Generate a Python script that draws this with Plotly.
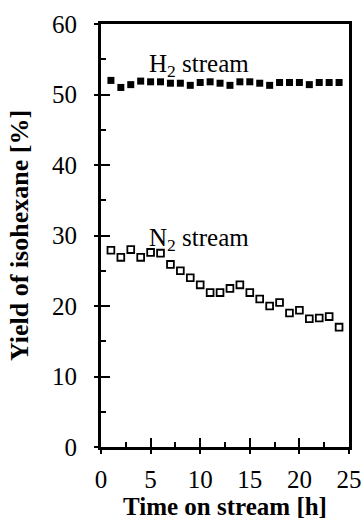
import plotly.graph_objects as go

hours = list(range(1, 25))
h2_yield = [52.0, 51.0, 51.4, 51.9, 51.8, 51.8, 51.6, 51.6, 51.3, 51.7, 51.8, 51.6,
            51.3, 51.8, 51.8, 51.6, 51.3, 51.7, 51.7, 51.7, 51.4, 51.7, 51.7, 51.7]
n2_yield = [27.9, 26.9, 28.0, 26.9, 27.6, 27.5, 25.9, 25.0, 24.0, 23.0, 21.9, 21.9,
            22.5, 23.0, 21.9, 21.0, 20.0, 20.5, 19.0, 19.4, 18.2, 18.3, 18.5, 17.0]
x_ticks = [0, 5, 10, 15, 20, 25]
y_ticks = [0, 10, 20, 30, 40, 50, 60]

FONT = "Liberation Serif, Times New Roman, serif"

fig = go.Figure()
fig.add_trace(go.Scatter(x=hours, y=h2_yield, mode="markers",
                         marker=dict(symbol="square", size=7, color="black",
                                     line=dict(width=0)),
                         showlegend=False))
fig.add_trace(go.Scatter(x=hours, y=n2_yield, mode="markers",
                         marker=dict(symbol="square", size=6.8, color="white",
                                     line=dict(width=1.8, color="black")),
                         showlegend=False))
# invisible helper trace so the overlay axes (outer halves of the crossing ticks) get drawn
fig.add_trace(go.Scatter(x=[0], y=[0], xaxis="x2", yaxis="y2", mode="markers",
                         marker=dict(opacity=0), showlegend=False, hoverinfo="skip"))

axis_common = dict(showgrid=False, zeroline=False, linecolor="black", linewidth=3,
                   tickcolor="black", tickwidth=2, automargin=False,
                   tickfont=dict(family=FONT, size=25, color="black"))

fig.update_layout(
    width=363, height=521,
    margin=dict(l=101, r=14, t=24, b=74, autoexpand=False),
    paper_bgcolor="white", plot_bgcolor="white",
    xaxis=dict(range=[0, 25], tickvals=x_ticks, ticks="inside", ticklen=9,
               mirror=True, showline=True, ticklabelstandoff=8,
               minor=dict(dtick=2.5, tick0=0, ticks="inside", ticklen=5,
                          tickwidth=2, tickcolor="black"),
               title=dict(text="<b>Time on stream [h]</b>", standoff=5,
                          font=dict(family=FONT, size=25, color="black")),
               **axis_common),
    yaxis=dict(range=[0, 60], tickvals=y_ticks, ticks="inside", ticklen=9,
               mirror=True, showline=True, ticklabelstandoff=16,
               minor=dict(dtick=5, tick0=0, ticks="inside", ticklen=5,
                          tickwidth=2, tickcolor="black"),
               title=dict(text="<b>Yield of isohexane [%]</b>", standoff=16,
                          font=dict(family=FONT, size=26, color="black")),
               **axis_common),
    xaxis2=dict(range=[0, 25], overlaying="x", anchor="y2", side="bottom",
                tickvals=x_ticks, ticks="outside", ticklen=6, tickwidth=2,
                tickcolor="black", showticklabels=False, showline=False,
                showgrid=False, zeroline=False, automargin=False),
    yaxis2=dict(range=[0, 60], overlaying="y", anchor="x2", side="left",
                tickvals=y_ticks, ticks="outside", ticklen=6, tickwidth=2,
                tickcolor="black", showticklabels=False, showline=False,
                showgrid=False, zeroline=False, automargin=False),
    annotations=[
        dict(x=4.6, y=51.6, xref="x", yref="y", text="H<sub>2</sub> stream",
             showarrow=False, xanchor="left", yanchor="bottom",
             font=dict(family=FONT, size=25, color="black")),
        dict(x=4.6, y=26.9, xref="x", yref="y", text="N<sub>2</sub> stream",
             showarrow=False, xanchor="left", yanchor="bottom",
             font=dict(family=FONT, size=25, color="black")),
    ],
)

# remove the default 8px page margin so the figure fills the window exactly
fig.write_html("out.html",
               config={"displayModeBar": False},
               post_script="document.body.style.margin='0';"
                           "document.body.style.overflow='hidden';")
